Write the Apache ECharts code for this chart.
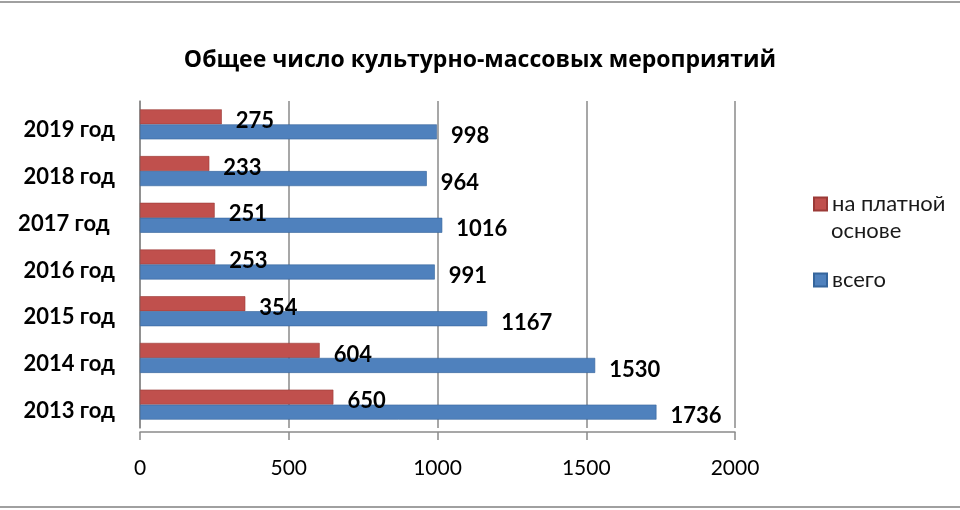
<!DOCTYPE html>
<html><head><meta charset="utf-8">
<script src="https://cdn.jsdelivr.net/npm/echarts@6/dist/echarts.min.js"></script>
<style>html,body{margin:0;padding:0;background:#fff}#c{width:960px;height:510px}</style>
</head><body><div id="c"></div>
<script>
const categories = ['2013 год','2014 год','2015 год','2016 год','2017 год ','2018 год','2019 год'];
const paidValues = [650, 604, 354, 253, 251, 233, 275];
const totalValues = [1736, 1530, 1167, 991, 1016, 964, 998];
const xTicks = [0, 500, 1000, 1500, 2000];
const seriesNames = ['на платной основе', 'всего'];

const chart = echarts.init(document.getElementById('c'));
const FONT = 'Lato, "Open Sans", sans-serif';
const GREY = '#8a8a8a';
chart.setOption({
  animation:false,
  title:{text:'Общее число культурно-массовых мероприятий',left:'center',top:44,
    textStyle:{fontFamily:'"Open Sans", Lato, sans-serif',fontSize:23,fontWeight:'bold',color:'#000'}},
  legend:[
    {orient:'vertical',left:808,top:188,itemWidth:13,itemHeight:13,icon:'rect',
      formatter:()=> 'на платной',
      textStyle:{fontFamily:FONT,fontSize:22,color:'#1a1a1a'},
      data:[seriesNames[0]]},
    {orient:'vertical',left:808,top:264,itemWidth:13,itemHeight:13,icon:'rect',
      textStyle:{fontFamily:FONT,fontSize:22,color:'#1a1a1a'},
      data:[seriesNames[1]]}
  ],
  grid:{left:140,right:225,top:101,bottom:82,containLabel:false},
  xAxis:{type:'value',min:0,max:2000,interval:500,offset:4,
    axisLine:{show:true,lineStyle:{color:GREY,width:1.5}},
    axisTick:{show:true,length:8,lineStyle:{color:GREY,width:1.5}},
    axisLabel:{fontFamily:FONT,fontSize:21,color:'#000',margin:26,
      formatter:v=>xTicks.includes(v)?String(v):''},
    splitLine:{show:true,lineStyle:{color:GREY,width:1.5}}},
  yAxis:{type:'category',data:categories,
    axisLine:{show:true,lineStyle:{color:GREY,width:1.5}},
    axisTick:{show:false},
    axisLabel:{fontFamily:FONT,fontSize:22,fontWeight:'bold',color:'#000',margin:25,
      verticalAlign:'top',lineHeight:12}},
  series:[
    {name:seriesNames[0],type:'bar',data:paidValues,barWidth:15,barGap:'0%',
      itemStyle:{color:'#C0504D',borderColor:'#9b3a37',borderWidth:0.6},
      label:{show:true,position:'right',distance:14,offset:[0,4],fontFamily:FONT,fontSize:22,fontWeight:'bold',color:'#000'}},
    {name:seriesNames[1],type:'bar',data:totalValues,barWidth:15,
      itemStyle:{color:'#4F81BD',borderColor:'#35659c',borderWidth:0.6},
      label:{show:true,position:'right',distance:14,offset:[0,4],fontFamily:FONT,fontSize:22,fontWeight:'bold',color:'#000'}}
  ],
  graphic:[
    {type:'text',left:831,top:220,style:{text:'основе',font:'22px Lato, "Open Sans", sans-serif',fill:'#1a1a1a'}},
    {type:'line',shape:{x1:0,y1:2,x2:960,y2:2},style:{stroke:'#a0a0a0',lineWidth:2}},
    {type:'line',shape:{x1:0,y1:507,x2:960,y2:507},style:{stroke:'#a0a0a0',lineWidth:2}}
  ]
});
</script></body></html>
